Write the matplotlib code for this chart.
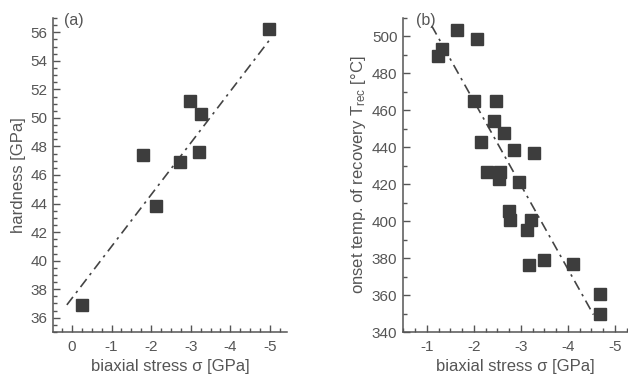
import numpy as np
import matplotlib
matplotlib.use("Agg")
import matplotlib.pyplot as plt
from matplotlib.ticker import MultipleLocator

plt.rcParams['font.family'] = ['Liberation Sans', 'DejaVu Sans']
plt.rcParams['mathtext.fontset'] = 'custom'
plt.rcParams['mathtext.rm'] = 'Liberation Sans'
plt.rcParams['mathtext.it'] = 'Liberation Sans'

# Panel (a): hardness vs biaxial stress
stress_a = [-0.24, -1.80, -2.12, -2.73, -2.98, -3.27, -3.21, -4.98]
hardness = [36.9, 47.4, 43.8, 46.9, 51.2, 50.3, 47.6, 56.2]
fit_a_x = [0.13, -5.0]
fit_a_slope, fit_a_x0, fit_a_y0 = -3.626, 0.13, 36.9

# Panel (b): onset temperature of recovery vs biaxial stress
stress_b = [-1.23, -1.32, -1.65, -2.07, -2.01, -2.48, -2.42, -2.65, -2.16, -2.85,
            -3.28, -2.27, -2.55, -2.54, -2.96, -2.74, -2.77, -3.21, -3.14, -3.17,
            -3.49, -4.11, -4.69, -4.69]
t_rec = [489.5, 493.0, 503.6, 498.6, 464.8, 464.8, 454.0, 447.7, 442.8, 438.7,
         436.9, 426.4, 426.4, 423.0, 421.4, 405.5, 400.8, 400.8, 395.0, 376.3,
         379.0, 376.8, 360.8, 349.9]
fit_b_x = [-1.10, -4.545]
fit_b_slope, fit_b_x0, fit_b_y0 = 45.4, -1.10, 505.8

fig = plt.figure(figsize=(6.28, 3.78), dpi=100)
txt = '#555555'
mk = '#3d3d3d'

ax1 = fig.add_axes([53/628, 46/378, 234/628, 314/378])
ax2 = fig.add_axes([403/628, 46/378, 224/628, 314/378])

def style(ax):
    for s in ['top', 'right']:
        ax.spines[s].set_visible(False)
    for s in ['left', 'bottom']:
        ax.spines[s].set_color(txt)
        ax.spines[s].set_linewidth(1.1)
    ax.tick_params(which='both', direction='in', colors=txt, labelsize=11,
                   labelcolor=txt, width=1.0)
    ax.tick_params(which='major', length=5)
    ax.tick_params(which='minor', length=3)
    ax.tick_params(axis='x', pad=6)
    ax.tick_params(axis='y', pad=4)

# Panel (a)
ax1.plot(stress_a, hardness, 's', color=mk, markersize=9, zorder=3)
fx = np.array(fit_a_x)
ax1.plot(fx, fit_a_y0 + fit_a_slope * (fx - fit_a_x0), color='#444444',
         lw=1.2, dashes=(6, 3, 1.5, 3), zorder=2)
ax1.set_xlim(0.48, -5.43)
ax1.set_ylim(35, 57)
ax1.xaxis.set_minor_locator(MultipleLocator(0.25))
ax1.yaxis.set_minor_locator(MultipleLocator(0.5))
ax1.set_xticks([0, -1, -2, -3, -4, -5])
ax1.set_xticklabels(['0', '-1', '-2', '-3', '-4', '-5'])
ax1.set_yticks(range(36, 57, 2))
style(ax1)
ax1.set_xlabel('biaxial stress σ [GPa]', fontsize=12, color=txt, labelpad=3)
ax1.set_ylabel('hardness [GPa]', fontsize=12, color=txt, labelpad=3)
ax1.text(0.045, 1.015, '(a)', transform=ax1.transAxes, fontsize=11.5,
         color=txt, va='top', ha='left')

# Panel (b)
ax2.plot(stress_b, t_rec, 's', color=mk, markersize=9, zorder=3)
fx = np.array(fit_b_x)
ax2.plot(fx, fit_b_y0 + fit_b_slope * (fx - fit_b_x0), color='#444444',
         lw=1.2, dashes=(6, 3, 1.5, 3), zorder=2)
ax2.set_xlim(-0.49, -5.26)
ax2.set_ylim(340, 510)
ax2.set_xticks([-1, -2, -3, -4, -5])
ax2.set_xticklabels(['-1', '-2', '-3', '-4', '-5'])
ax2.xaxis.set_minor_locator(MultipleLocator(0.25))
ax2.set_yticks(range(340, 501, 20))
ax2.yaxis.set_minor_locator(MultipleLocator(10))
style(ax2)
ax2.set_xlabel('biaxial stress σ [GPa]', fontsize=12, color=txt, labelpad=3)
ax2.set_ylabel(r'onset temp. of recovery T$_{\mathrm{rec}}$ [°C]', fontsize=12,
               color=txt, labelpad=3)
ax2.text(0.058, 1.015, '(b)', transform=ax2.transAxes, fontsize=11.5,
         color=txt, va='top', ha='left')

fig.savefig('out.png', dpi=100)
